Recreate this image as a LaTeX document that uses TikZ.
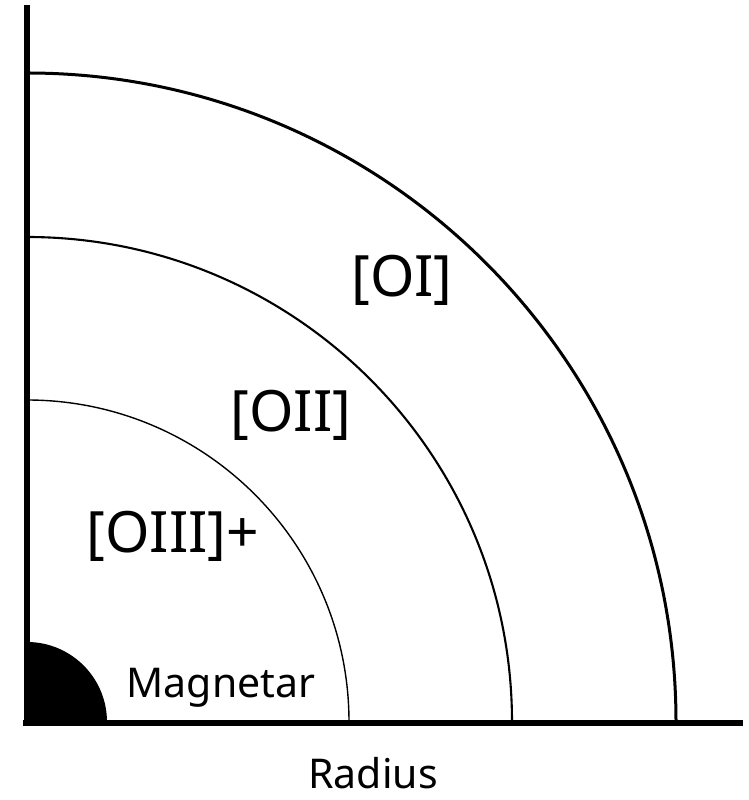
\documentclass[tikz,border=0pt]{standalone}
\usepackage{fontspec}
\setmainfont{Noto Sans}
\begin{document}
\begin{tikzpicture}[x=1pt,y=1pt,
  zonelabel/.style={anchor=base,inner sep=0pt,font=\fontsize{57}{60}\selectfont},
  smalllabel/.style={anchor=base,inner sep=0pt,font=\fontsize{41}{44}\selectfont},
  axisline/.style={line width=6pt},
  shell/.style={draw=black}]
\useasboundingbox (0,0) rectangle (749,800);
\coordinate (c) at (27,78);
% magnetar
\fill[black] (c) -- ++(80,0) arc[start angle=0,end angle=90,radius=80] -- cycle;
% shells
\draw[shell,line width=1.4pt] ([xshift=322pt]c) arc[start angle=0,end angle=90,radius=322];
\draw[shell,line width=2.1pt] ([xshift=485pt]c) arc[start angle=0,end angle=90,radius=485];
\draw[shell,line width=3pt] ([xshift=649pt]c) arc[start angle=0,end angle=90,radius=649];
% axes
\coordinate (ytop) at (26.5,795);
\coordinate (ybot) at (26.5,74);
\coordinate (xleft) at (23,76.5);
\coordinate (xright) at (743,76.5);
\draw[axisline] (ybot) -- (ytop);
\draw[axisline] (xleft) -- (xright);
% labels
\node[zonelabel] (oi) at (402,503) {[OI]};
\node[zonelabel] (oii) at (291,368) {[OII]};
\node[zonelabel] (oiii) at (173,247) {[OIII]+};
\node[smalllabel] (mag) at (221,102) {Magnetar};
\node[smalllabel] (rad) at (373,12) {Radius};
\end{tikzpicture}
\end{document}
